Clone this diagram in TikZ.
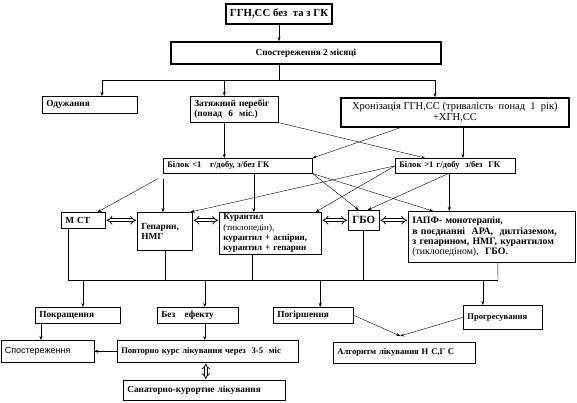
\documentclass[tikz,border=0pt]{standalone}
\usepackage{fontspec}
\setmainfont{Liberation Serif}
\setsansfont{Liberation Sans}
\usetikzlibrary{arrows.meta}
\tikzset{
  box/.style={draw, line width=0.6pt, anchor=north west, inner xsep=4pt, inner ysep=1pt, align=left, font=\fontsize{9.3}{10.5}\selectfont\bfseries},
  smallbox/.style={box, font=\fontsize{8.6}{10}\selectfont\bfseries},
  thickbox/.style={box, line width=1.8pt, align=center},
  dbl/.style={double, double distance=2.2pt, line width=0.75pt, {Implies}-{Implies}},
}
\begin{document}
\begin{tikzpicture}[x=1pt, y=-1pt, >={Stealth[length=4pt, width=3pt]}]
\useasboundingbox (0,0) rectangle (577,403);
% top
\node[thickbox, minimum width=103pt, minimum height=20pt, font=\fontsize{10.8}{12}\selectfont\bfseries] (top) at (225,3) {ГГН,СС без\ \ та з ГК};
\node[thickbox, minimum width=270pt, minimum height=22pt] (obs2) at (170,41) {Спостереження 2 місяці};
\draw[->] (top.south) -- (top.south |- obs2.north);
% first row
\node[box, text width=87pt, minimum height=17pt] (odu) at (42,96) {Одужання};
\node[box, text width=80pt, minimum height=26pt] (zat) at (190,96) {Затяжний перебіг\\(понад\ \ 6\ \ міс.)};
\node[thickbox, minimum width=228pt, minimum height=29pt, font=\fontsize{10.5}{11.5}\selectfont] (hron) at (340,97) {Хронізація ГГН,СС (тривалість\ \ понад\ \ 1\ \ рік)\\+ХГН,СС};
% bus under obs2
\coordinate (busL) at (102,80);
\coordinate (busR) at (435,80);
\draw (top.south |- obs2.south) -- (top.south |- busL);
\draw (busL) -- (busR);
\draw[->] (busL) -- (busL |- odu.north);
\draw[->] ([xshift=-10pt]zat.north |- busL) -- ([xshift=-10pt]zat.north);
\draw[->] (busR) -- (busR |- hron.north);
% protein
\node[smallbox, text width=141pt, minimum height=15pt] (b1) at (163,158) {Білок <1\ \ \ г/добу, з/без ГК};
\node[smallbox, text width=112pt, minimum height=15pt] (b2) at (395,158) {Білок >1 г/добу\ \ з/без\ \ ГК};
\draw[->] ([xshift=-10pt]zat.south) -- ([xshift=-10pt]zat.south |- b1.north);
\draw[->] (zat.south east) -- ([xshift=30pt]b2.north west);
\draw[->] ([xshift=60pt]hron.south west) -- (b1.north east);
\draw[->] ([xshift=8pt]hron.south) -- ([xshift=8pt]hron.south |- b2.north);
% treatment
\node[box, text width=36pt, minimum height=16pt] (mst) at (61,212) {М\ СТ};
\node[box, text width=47pt, minimum height=38pt] (hep) at (137,212) {Гепарин,\\НМГ};
\node[box, text width=94pt, minimum height=42pt, font=\fontsize{9}{10.3}\selectfont\bfseries] (kur) at (219,212) {Курантил\\{\mdseries (тиклопедін),}\\курантил + аспірин,\\курантил + гепарин};
\node[box, align=center, minimum width=30pt, minimum height=20pt, font=\fontsize{11}{12}\selectfont\bfseries] (gbo) at (348,210) {ГБО};
\node[box, text width=159pt, minimum height=51pt, font=\fontsize{9.8}{10.3}\selectfont\bfseries] (iapf) at (408,211) {ІАПФ- монотерапія,\\в поєднанні\ \ АРА,\ \ дилтіаземом,\\з гепарином, НМГ, курантилом\\{\mdseries (тиклопедіном),}\ \ ГБО.};
% lines from b1
\draw[->] ([xshift=-5pt, yshift=-5pt]b1.south west) -- ([xshift=-8pt]mst.north east);
\draw[->] ([yshift=-5pt]b1.south west) -- (b1.south west |- hep.north);
\draw[->] ([xshift=16pt]b1.south) -- ([xshift=16pt]b1.south |- kur.north);
\draw[->] (b1.south east) -- ([xshift=-5pt]gbo.north);
\draw[->] (b1.south east) -- ([xshift=25pt]iapf.north west);
% lines from b2
\draw[->] (b2.west) -- ([xshift=-2pt]hep.north east);
\draw[->] (b2.west) -- ([xshift=-6pt]kur.north east);
\draw[->] ([xshift=-7pt]b2.south) -- ([xshift=4pt]gbo.north);
\draw[->] ([xshift=-6pt]b2.south) -- ([xshift=-6pt]b2.south |- iapf.north);
% double arrows
\draw[dbl] ([xshift=1pt]mst.east) -- ([xshift=-1pt]mst.east -| hep.west);
\draw[dbl] ([xshift=1pt]mst.east -| hep.east) -- ([xshift=-1pt]mst.east -| kur.west);
\draw[dbl] ([xshift=1pt]gbo.west -| kur.east) -- ([xshift=-1pt]gbo.west);
\draw[dbl] ([xshift=1pt]gbo.east) -- ([xshift=-1pt]gbo.east -| iapf.west);
% results
\node[box, text width=77pt, minimum height=16pt] (pokr) at (35,307) {Покращення};
\node[box, text width=73pt, minimum height=16pt] (bez) at (157,307) {Без\ \ \ ефекту};
\node[box, text width=72pt, minimum height=16pt] (pogir) at (273,307) {Погіршення};
\node[smallbox, text width=71pt, minimum height=24pt] (progr) at (463,305) {Прогресування};
% bus under treatment
\coordinate (bus2L) at (68,280);
\coordinate (bus2R) at (498,280);
\draw (bus2L) -- (bus2R);
\draw ([xshift=7pt]mst.south west) -- (bus2L);
\draw (hep.south) -- (hep.south |- bus2L);
\draw ([xshift=-18pt]kur.south) -- ([xshift=-18pt]kur.south |- bus2L);
\draw (gbo.south) -- (gbo.south |- bus2L);
\draw ([xshift=6pt]iapf.south) -- (bus2R);
\draw[->] ([xshift=5pt]pokr.north |- bus2L) -- ([xshift=5pt]pokr.north);
\draw[->] ([xshift=7pt]bez.north |- bus2L) -- ([xshift=7pt]bez.north);
\draw[->] ([xshift=7pt]pogir.north |- bus2L) -- ([xshift=7pt]pogir.north);
\draw[->] ([xshift=-20pt]progr.north |- bus2L) -- ([xshift=-20pt]progr.north);
% last row
\node[box, text width=85pt, minimum height=22pt, font=\fontsize{9}{10}\selectfont\sffamily] (spost) at (0.5,340) {Спостереження};
\node[smallbox, text width=173pt, minimum height=22pt] (povt) at (117,340) {Повторно курс лікування через\ \ 3-5\ \ міс};
\node[smallbox, text width=134pt, minimum height=21pt] (alg) at (333,342) {Алгоритм лікування Н С,Г С};
\node[box, text width=154pt, minimum height=20pt] (san) at (123,380) {Санаторно-курортне лікування};
\draw[->] ([xshift=6pt]pokr.south west) -- ([xshift=6pt]pokr.south west |- spost.north);
\draw[->] ([xshift=7pt]bez.south) -- ([xshift=7pt]bez.south |- povt.north);
\draw[->] (povt.west) -- (spost.east);
\draw[dbl] ([xshift=-2pt, yshift=-1pt]povt.south) -- ([xshift=-2pt, yshift=1pt]povt.south |- san.north);
\coordinate (algin) at ([xshift=-4pt, yshift=6pt]alg.north);
\draw[->] (pogir.east) -- (algin);
\draw[->] (progr.west) -- (algin);
\end{tikzpicture}
\end{document}
